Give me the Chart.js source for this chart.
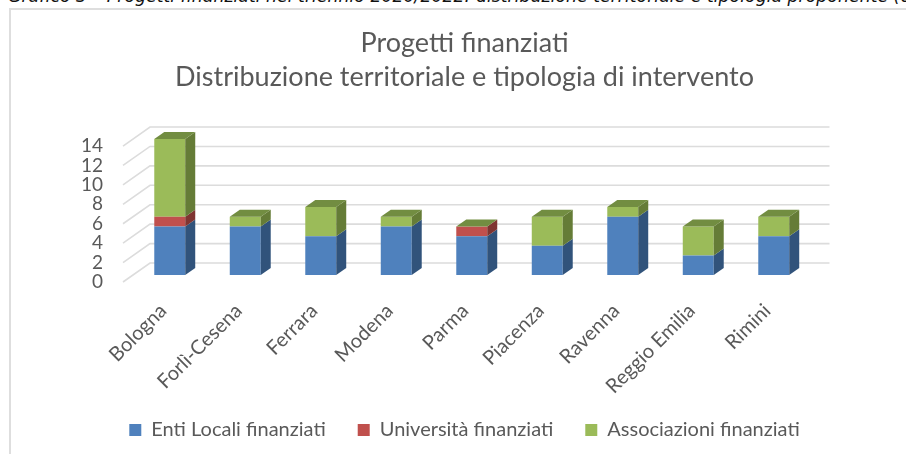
<!DOCTYPE html>
<html><head><meta charset="utf-8">
<style>
html,body{margin:0;padding:0;background:#fff;width:906px;height:454px;overflow:hidden}
#cap{position:absolute;left:8px;top:-17px;font:italic 17.35px "DejaVu Sans",sans-serif;line-height:26px;color:#111;white-space:nowrap}
#box{position:absolute;left:9px;top:8px;width:897px;height:446px;border-left:2px solid #dedede;border-top:2px solid #dedede;box-sizing:border-box}
#wrap{position:absolute;left:0;top:0;width:906px;height:454px;filter:blur(0.35px)}
</style>
<script src="https://cdn.jsdelivr.net/npm/chart.js@4"></script>
</head><body>
<div id="cap">Grafico 3 – Progetti finanziati nel triennio 2020/2022: distribuzione territoriale e tipologia proponente (dati</div>
<div id="box"></div>
<div id="wrap"><canvas id="c" width="906" height="454"></canvas></div>
<script>
const categories = ["Bologna","Forlì-Cesena","Ferrara","Modena","Parma","Piacenza","Ravenna","Reggio Emilia","Rimini"];
const entiLocali = [5,5,4,5,4,3,6,2,4];
const universita = [1,0,0,0,1,0,0,0,0];
const associazioni = [8,1,3,1,0,3,1,3,2];
const titleLines = ["Progetti finanziati","Distribuzione territoriale e tipologia di intervento"];
const palette = {
  enti:{front:"#4F81BD",side:"#31537B"},
  univ:{front:"#C0504D",side:"#7F3431"},
  asso:{front:"#9BBB59",side:"#657C37",top:"#728D41"}
};
const BAR_DX=10, BAR_DY=7, BACK_DX=18, BACK_DY=12, FRONT_DX=9, FRONT_DY=7;

const gridPlugin={id:"wall",beforeDatasetsDraw(ch){
  const {x,y}=ch.scales,c=ch.ctx;
  c.save();c.strokeStyle="#DCDCDC";c.lineWidth=1.6;
  y.ticks.forEach(t=>{
    const p=y.getPixelForValue(t.value);
    c.beginPath();
    c.moveTo(x.left-FRONT_DX,p+FRONT_DY);
    c.lineTo(x.left+BACK_DX,p-BACK_DY);
    c.lineTo(x.right+BACK_DX,p-BACK_DY);
    c.stroke();
  });
  c.restore();
}};
const sidePlugin={id:"sides",afterDatasetsDraw(ch){
  const c=ch.ctx;
  const n=categories.length;
  const last=ch.data.datasets.length-1;
  for(let i=0;i<n;i++){
    ch.data.datasets.forEach((ds,di)=>{
      const el=ch.getDatasetMeta(di).data[i];
      if(!ds.data[i])return;
      const r=el.x+el.width/2;
      c.fillStyle=ds.sideColor;
      c.beginPath();
      c.moveTo(r,el.base);c.lineTo(r+BAR_DX,el.base-BAR_DY);
      c.lineTo(r+BAR_DX,el.y-BAR_DY);c.lineTo(r,el.y);c.closePath();c.fill();
    });
    const el=ch.getDatasetMeta(last).data[i],ds=ch.data.datasets[last];
    const l=el.x-el.width/2,r=el.x+el.width/2;
    c.fillStyle=ds.topColor;
    c.beginPath();
    c.moveTo(l,el.y);c.lineTo(l+BAR_DX,el.y-BAR_DY);
    c.lineTo(r+BAR_DX,el.y-BAR_DY);c.lineTo(r,el.y);c.closePath();c.fill();
  }
}};
new Chart(document.getElementById("c"),{
  type:"bar",
  data:{labels:categories,datasets:[
    {label:"Enti Locali finanziati",data:entiLocali,backgroundColor:palette.enti.front,sideColor:palette.enti.side},
    {label:"Università finanziati",data:universita,backgroundColor:palette.univ.front,sideColor:palette.univ.side},
    {label:"Associazioni finanziati",data:associazioni,backgroundColor:palette.asso.front,sideColor:palette.asso.side,topColor:palette.asso.top}
  ]},
  plugins:[gridPlugin,sidePlugin],
  options:{
    responsive:false,animation:false,
    layout:{padding:{left:23,right:0,top:26,bottom:4}},
    datasets:{bar:{barPercentage:0.41,categoryPercentage:1}},
    scales:{
      x:{stacked:true,grid:{display:false},border:{display:false},
        afterFit(s){s.height=113;s._computeLabelArea=()=>undefined;},
        ticks:{color:"#595959",font:{family:"Lato",size:20},maxRotation:45,minRotation:45,padding:16,labelOffset:-6.5,autoSkip:false}},
      y:{stacked:true,min:0,max:14,grid:{display:false},border:{display:false},
        afterFit(s){s.width=109;},
        ticks:{stepSize:2,color:"#595959",font:{family:"Lato",size:19},labelOffset:7,padding:21,autoSkip:false}},
      spare:{position:"right",display:true,grid:{display:false},border:{display:false},
        afterFit(s){s.width=94.5;},
        ticks:{display:false}}
    },
    plugins:{
      title:{display:true,text:titleLines,color:"#595959",font:{family:"Lato",size:27,weight:"normal",lineHeight:1.26},padding:{top:0,bottom:45}},
      legend:{position:"bottom",labels:{color:"#595959",font:{family:"Lato",size:20},boxWidth:12,boxHeight:12,padding:32}},
      tooltip:{enabled:false}
    }
  }
});
</script>
</body></html>
